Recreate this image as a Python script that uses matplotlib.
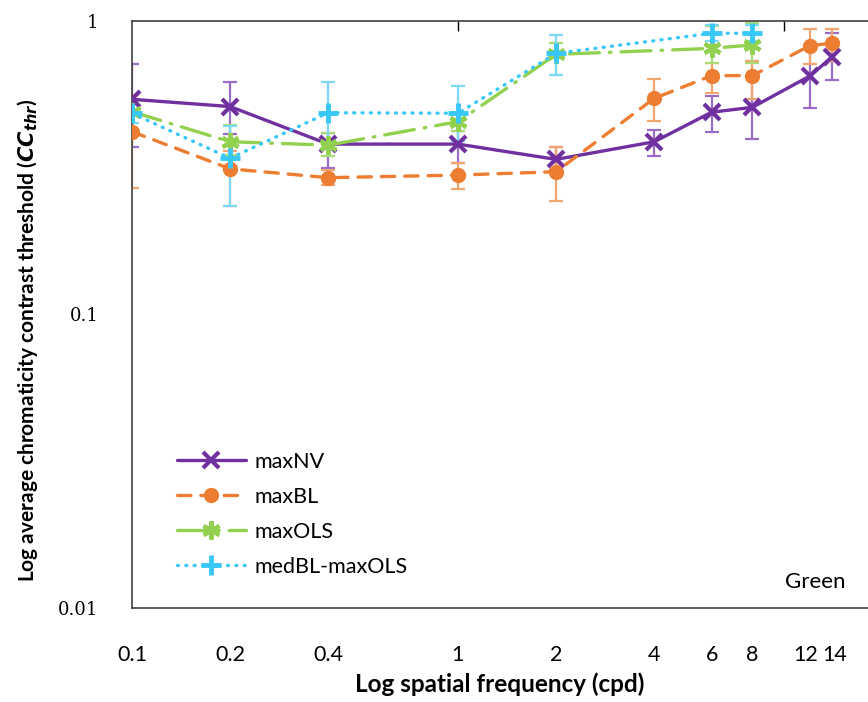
import matplotlib
matplotlib.use('Agg')
import matplotlib.pyplot as plt
from matplotlib.transforms import ScaledTranslation

freq = [0.1, 0.2, 0.4, 1, 2, 4, 6, 8, 12, 14]
tick_labels = ['0.1', '0.2', '0.4', '1', '2', '4', '6', '8', '12', '14']

# mean thresholds and error bar ends (low, high)
max_nv = [0.54, 0.51, 0.38, 0.38, 0.337, 0.387, 0.488, 0.507, 0.648, 0.75]
max_nv_lo = [0.372, 0.41, 0.315, 0.327, 0.31, 0.345, 0.419, 0.395, 0.503, 0.628]
max_nv_hi = [0.71, 0.617, 0.415, 0.42, 0.372, 0.425, 0.554, 0.65, 0.81, 0.91]

max_bl = [0.419, 0.313, 0.292, 0.298, 0.306, 0.544, 0.65, 0.65, 0.822, 0.838]
max_bl_lo = [0.27, 0.233, 0.275, 0.267, 0.243, 0.457, 0.566, 0.54, 0.71, 0.73]
max_bl_hi = [0.56, 0.36, 0.31, 0.327, 0.372, 0.633, 0.72, 0.73, 0.935, 0.935]

freq_ols = [0.1, 0.2, 0.4, 1, 2, 6, 8]
max_ols = [0.49, 0.387, 0.377, 0.453, 0.768, 0.805, 0.827]
max_ols_lo = [0.45, 0.35, 0.345, 0.42, 0.654, 0.72, 0.72]
max_ols_hi = [0.53, 0.44, 0.414, 0.49, 0.84, 0.96, 0.98]

freq_med = [0.1, 0.2, 0.4, 1, 2, 6, 8]
med_bl_max_ols = [0.484, 0.34, 0.486, 0.484, 0.774, 0.906, 0.906]
med_lo = [0.45, 0.233, 0.38, 0.39, 0.654, 0.85, 0.85]
med_hi = [0.52, 0.438, 0.62, 0.60, 0.894, 0.97, 0.97]

fig = plt.figure(figsize=(8.68, 7.02), dpi=100)
ax = fig.add_axes([0.152, 0.134, 0.848, 0.8365])


def plot_series(x, y, lo, hi, color, ecolor, marker, ms, mew, dashes, label):
    yerr = [[v - l for v, l in zip(y, lo)], [h - v for v, h in zip(y, hi)]]
    ax.errorbar(x, y, yerr=yerr, fmt='none', ecolor=ecolor, elinewidth=1.6,
                capsize=5, capthick=1.6, zorder=2)
    line, = ax.plot(x, y, color=color, lw=2.4, marker=marker, ms=ms, mew=mew,
                    label=label, zorder=3, solid_capstyle='round',
                    dash_capstyle='round')
    if dashes is not None:
        line.set_dashes(dashes)
    return line


plot_series(freq, max_nv, max_nv_lo, max_nv_hi, '#7030A0', '#9a6cc6', 'x', 12, 3, None, 'maxNV')
plot_series(freq, max_bl, max_bl_lo, max_bl_hi, '#ED7D31', '#f2a46e', 'o', 10, 1, (4, 3), 'maxBL')
plot_series(freq_ols, max_ols, max_ols_lo, max_ols_hi, '#92D050', '#a9dc75', (6, 2, 0), 13, 3, (9, 3, 0.5, 3), 'maxOLS')
plot_series(freq_med, med_bl_max_ols, med_lo, med_hi, '#38C8F8', '#7dd8f5', '+', 14, 3.5, (0.3, 2.2), 'medBL-maxOLS')

ax.set_xscale('log')
ax.set_yscale('log')
ax.set_xlim(0.1, 18.1)
ax.set_ylim(0.01, 1)

ax.set_yticks([0.01, 0.1, 1])
ax.set_yticklabels(['0.01', '0.1', '1'], fontsize=13, family='DejaVu Serif')
ax.yaxis.set_minor_locator(matplotlib.ticker.NullLocator())
ax.tick_params(axis='y', length=0, pad=24)

ax.xaxis.remove_overlapping_locs = False
ax.set_xticks([1, 10])
ax.set_xticklabels([])
ax.set_xticks(freq, minor=True)
ax.set_xticklabels(tick_labels, minor=True, fontsize=15.5, family='Lato')
ax.tick_params(axis='x', which='major', bottom=False, top=True,
               direction='in', length=7, width=1)
ax.tick_params(axis='x', which='minor', bottom=True, top=False,
               length=0, pad=27)

# nudge the two crowded labels apart
minor_labels = ax.get_xticklabels(minor=True)
minor_labels[-2].set_transform(minor_labels[-2].get_transform() + ScaledTranslation(-4 / 100, 0, fig.dpi_scale_trans))
minor_labels[-1].set_transform(minor_labels[-1].get_transform() + ScaledTranslation(3 / 100, 0, fig.dpi_scale_trans))

for side in ['left', 'bottom', 'top']:
    ax.spines[side].set_color('#404040')
    ax.spines[side].set_linewidth(1.2)
ax.spines['right'].set_visible(False)

ax.set_xlabel('Log spatial frequency (cpd)', fontsize=17.5, fontweight='bold',
              family='Lato', labelpad=5)
ax.set_ylabel(r'Log average chromaticity contrast threshold ($\mathbfit{CC}_{\mathbfit{thr}}$)',
              fontsize=15, fontweight='bold', family='Lato')
ax.yaxis.set_label_coords(-0.125, 0.456)

ax.text(0.97, 0.045, 'Green', transform=ax.transAxes, ha='right', va='center',
        fontsize=16, family='Lato')

leg = ax.legend(loc='lower left', bbox_to_anchor=(0.061, 0.053), frameon=False,
                handlelength=3.2, handletextpad=0.4, labelspacing=0.7,
                borderpad=0, borderaxespad=0,
                prop={'family': 'Lato', 'size': 15.5})

fig.savefig('out.png', dpi=100)
